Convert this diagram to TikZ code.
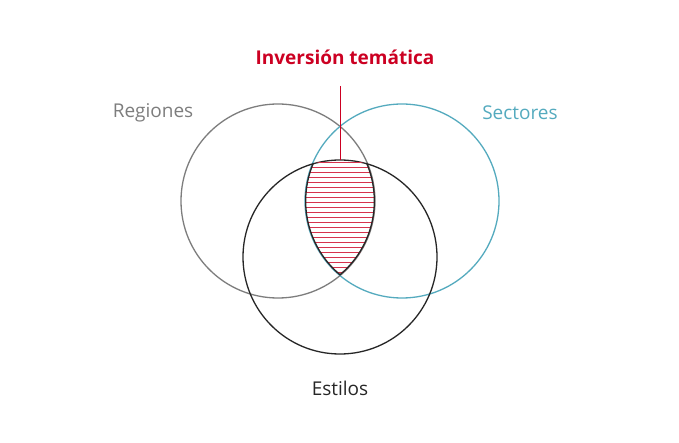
\documentclass[tikz,border=0pt]{standalone}
\usepackage{fontspec}
\setmainfont{Open Sans}
\usetikzlibrary{positioning}
\definecolor{rojo}{RGB}{204,0,34}
\definecolor{turquesa}{RGB}{84,170,190}
\definecolor{gris}{RGB}{125,125,125}
\begin{document}
\begin{tikzpicture}[
    x=1pt, y=-1pt,
    conjunto/.style = {circle, minimum size=194pt, line width=1.3pt, inner sep=0pt},
    rotulo/.style = {font=\fontsize{19}{22}\selectfont},
    raya/.style = {rojo!80, line width=0.45pt}
    ]
  \useasboundingbox (0,0) rectangle (679,443);

  \node[conjunto, draw=gris] (regiones) at (278,201) {};
  \node[conjunto, draw=turquesa] (sectores) at (402,201) {};
  \node[conjunto, draw=black!85] (estilos) at (340,257) {};

  % zona rayada
  \begin{scope}
    \clip (278,201) circle (97);
    \clip (402,201) circle (97);
    \clip (340,257) circle (97);
    \foreach \y in {162,167,...,280}
      \draw[raya] (290,\y) -- (390,\y);
    \draw[black!85, line width=2.6pt] (278,201) circle (97);
    \draw[black!85, line width=2.6pt] (402,201) circle (97);
  \end{scope}

  \node[rotulo, gris] (tregiones) at (153,113) {Regiones};
  \node[rotulo, turquesa] (tsectores) at (520,113) {Sectores};
  \node[rotulo, black!85] (testilos) at (340,388) {Estilos};
  \node[rotulo, rojo, font=\bfseries\fontsize{19}{22}\selectfont] (tinversion) at (345,57) {Inversión temática};

  \coordinate (arriba) at (340,86);
  \coordinate (punta) at (340,160);
  \draw[rojo, line width=0.9pt] (arriba) -- (punta);
\end{tikzpicture}
\end{document}
